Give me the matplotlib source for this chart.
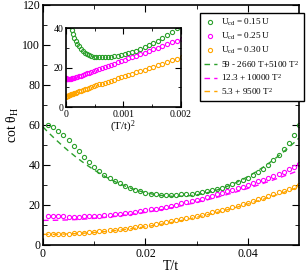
import matplotlib
matplotlib.use("Agg")
import matplotlib.pyplot as plt
import numpy as np

plt.rcParams["font.family"] = ["Liberation Serif", "DejaVu Serif"]
plt.rcParams["mathtext.fontset"] = "custom"
plt.rcParams["mathtext.rm"] = "Liberation Serif"
plt.rcParams["mathtext.it"] = "Liberation Serif:italic"

# temperature grid T/t
T = np.arange(1, 51) * 0.001

cot_015 = [60, 59.2, 57.2, 55, 52.5, 49.7, 47, 44.2, 41.5, 39.2,
           37, 35, 33.3, 32, 30.8, 29.6, 28.5, 27.6, 26.8, 26.2,
           25.7, 25.4, 25.2, 25.1, 25.1, 25.2, 25.3, 25.5, 25.7, 26.0,
           26.4, 26.8, 27.3, 27.9, 28.6, 29.4, 30.3, 31.3, 32.4, 33.6,
           35, 36.5, 38.2, 40.2, 42.5, 45, 47.8, 50.8, 55, 60]
cot_025 = [14.6, 14.5, 14.4, 14.3, 14.2, 14.2, 14.2, 14.3, 14.4, 14.5,
           14.7, 14.9, 15.1, 15.3, 15.6, 15.9, 16.2, 16.6, 17.0, 17.4,
           17.8, 18.2, 18.7, 19.2, 19.7, 20.2, 20.8, 21.4, 22.0, 22.6,
           23.2, 23.9, 24.6, 25.3, 26.0, 26.8, 27.6, 28.4, 29.2, 30.0,
           30.9, 31.8, 32.7, 33.6, 34.6, 35.6, 36.7, 37.8, 38.8, 40.5]
cot_030 = [5.3, 5.4, 5.5, 5.6, 5.7, 5.8, 6.0, 6.2, 6.4, 6.6,
           6.8, 7.0, 7.3, 7.6, 7.9, 8.2, 8.5, 8.9, 9.3, 9.7,
           10.1, 10.5, 11.0, 11.4, 11.9, 12.4, 12.9, 13.4, 13.9, 14.5,
           15.1, 15.7, 16.3, 16.9, 17.5, 18.2, 18.9, 19.6, 20.4, 21.2,
           22.0, 22.8, 23.6, 24.5, 25.4, 26.3, 27.2, 28.1, 29.1, 30.2]

# fit coefficients (highest power first)
fit_015 = [51000, -2660, 59]
fit_025 = [10000, 0, 12.3]
fit_030 = [9500, 0, 5.3]

labels = ["U$_{\\rm cd}$ = 0.15 U", "U$_{\\rm cd}$ = 0.25 U", "U$_{\\rm cd}$ = 0.30 U"]
fit_labels = ["59 - 2660 T+5100 T$^2$", "12.3 + 10000 T$^2$", "5.3 + 9500 T$^2$"]
colors = ["#2ca02c", "#ff00ff", "#ffa500"]

fig = plt.figure(figsize=(3.08, 2.73), dpi=100)
ax = fig.add_axes([0.1396, 0.1026, 0.8314, 0.8791])

T_fit = np.linspace(0, 0.05, 200)
handles = []
for cot, lab, c in zip([cot_015, cot_025, cot_030], labels, colors):
    h, = ax.plot(T, cot, "o", mfc="none", mec=c, ms=3, mew=0.8, label=lab)
    handles.append(h)
for coef, lab, c in zip([fit_015, fit_025, fit_030], fit_labels, colors):
    h, = ax.plot(T_fit, np.polyval(coef, T_fit), "--", color=c, lw=1,
                 dashes=(4, 3), label=lab)
    handles.append(h)

ax.set_xlim(0, 0.05)
ax.set_ylim(0, 120)
ax.set_xticks([0, 0.02, 0.04])
ax.set_xticklabels(["0", "0.02", "0.04"])
ax.set_xticks([0.01, 0.03], minor=True)
ax.set_yticks([0, 20, 40, 60, 80, 100, 120])
ax.set_yticks([10, 30, 50, 70, 90, 110], minor=True)
ax.tick_params(which="both", direction="in", top=True, right=True, labelsize=8.5, pad=2)
ax.tick_params(which="major", length=5)
ax.tick_params(which="minor", length=3)
for s in ax.spines.values():
    s.set_linewidth(1.2)
ax.set_xlabel("T/t", fontsize=10, labelpad=0)
ax.set_ylabel("cot θ$_{\\rm H}$", fontsize=10, labelpad=1)

fig.legend(handles=handles, loc="upper left", bbox_to_anchor=(0.649, 0.952),
           fontsize=6.6, frameon=True, fancybox=False, edgecolor="black",
           framealpha=1, handlelength=1.4, handletextpad=0.5, borderpad=0.45,
           labelspacing=0.28, borderaxespad=0)

# inset: same data vs (T/t)^2
ins = fig.add_axes([0.2143, 0.608, 0.3724, 0.2894])
for cot, c in zip([cot_015, cot_025, cot_030], colors):
    ins.plot(T ** 2, cot, "o", mfc="none", mec=c, ms=3, mew=0.8)
ins.set_xlim(0, 0.002)
ins.set_ylim(0, 40)
ins.set_xticks([0, 0.001, 0.002])
ins.set_xticklabels(["0", "0.001", "0.002"])
ins.set_xticks([0.0005, 0.0015], minor=True)
ins.set_yticks([0, 20, 40])
ins.set_yticks([10, 30], minor=True)
ins.tick_params(which="both", direction="in", top=True, right=True, labelsize=7, pad=2)
ins.tick_params(which="major", length=4)
ins.tick_params(which="minor", length=2.5)
for s in ins.spines.values():
    s.set_linewidth(1.2)
ins.set_xlabel("(T/t)$^2$", fontsize=8, labelpad=0)

fig.savefig("out.png", dpi=100)
